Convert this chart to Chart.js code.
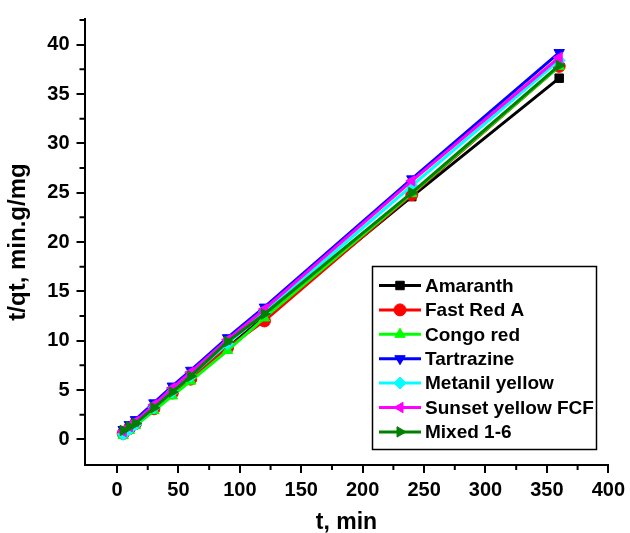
<!DOCTYPE html>
<html>
<head>
<meta charset="utf-8">
<script src="https://cdn.jsdelivr.net/npm/chart.js@4/dist/chart.umd.min.js"></script>
<style>
  html, body { margin: 0; padding: 0; background: #fff; }
  #wrap { width: 630px; height: 533px; }
</style>
</head>
<body>
<div id="wrap"><canvas id="kinetics"></canvas></div>
<script>
var times = [5, 10, 15, 30, 45, 60, 90, 120, 240, 360];
var amaranth = [0.6, 1.1, 1.6, 3.1, 4.6, 6.2, 9.3, 12.4, 24.6, 36.6];
var fastRed = [0.6, 1.1, 1.6, 3.1, 4.7, 6.1, 9.3, 12.0, 24.8, 37.8];
var congoRed = [0.4, 0.9, 1.4, 2.9, 4.4, 5.9, 9.0, 12.3, 24.9, 37.8];
var tartrazine = [1.0, 1.5, 2.0, 3.7, 5.4, 7.0, 10.3, 13.4, 26.4, 39.2];
var metanil = [0.5, 1.0, 1.5, 3.2, 4.8, 6.4, 9.7, 12.9, 25.7, 38.4];
var sunset = [0.8, 1.3, 1.8, 3.5, 5.2, 6.8, 10.1, 13.2, 26.2, 38.7];
var mixed = [0.9, 1.3, 1.6, 3.2, 4.8, 6.4, 9.9, 12.7, 25.0, 37.9];

var seriesNames = ["Amaranth", "Fast Red A", "Congo red", "Tartrazine", "Metanil yellow", "Sunset yellow FCF", "Mixed 1-6"];
var seriesData = [amaranth, fastRed, congoRed, tartrazine, metanil, sunset, mixed];
var seriesColors = ["#000000", "#ff0000", "#00ff00", "#0000ff", "#00ffff", "#ff00ff", "#008000"];
var markers = ["rect", "circle", "triangle", "triangle", "rectRot", "triangle", "triangle"];
var markerTurn = [0, 0, 0, 180, 0, 270, 90];

var xTicks = [0, 50, 100, 150, 200, 250, 300, 350, 400];
var yTicks = [0, 5, 10, 15, 20, 25, 30, 35, 40];

var FONT = "'Liberation Sans', Arial, sans-serif";

var datasets = seriesNames.map(function (name, i) {
  return {
    label: name,
    data: times.map(function (t, k) { return { x: t, y: seriesData[i][k] }; }),
    borderColor: seriesColors[i],
    backgroundColor: seriesColors[i],
    borderWidth: 3,
    pointStyle: markers[i],
    rotation: markerTurn[i],
    pointRadius: 6,
    pointBorderWidth: 1,
    tension: 0,
    order: seriesNames.length - i
  };
});

// short ticks halfway between the labelled ones
var minorTicks = {
  id: "minorTicks",
  afterDraw: function (chart) {
    var ctx = chart.ctx;
    var xs = chart.scales.x, ys = chart.scales.y;
    ctx.save();
    ctx.strokeStyle = "#000";
    ctx.lineWidth = 2;
    ctx.beginPath();
    for (var i = 0; i < xTicks.length - 1; i++) {
      var px = xs.getPixelForValue((xTicks[i] + xTicks[i + 1]) / 2);
      ctx.moveTo(px, xs.top);
      ctx.lineTo(px, xs.top + 5);
    }
    for (var j = 0; j < yTicks.length; j++) {
      var py = ys.getPixelForValue(yTicks[j] + 2.5);
      if (py < ys.top) continue;
      ctx.moveTo(ys.right, py);
      ctx.lineTo(ys.right - 5, py);
    }
    ctx.stroke();
    ctx.restore();
  }
};

// boxed legend in the lower right of the plot
var boxLegend = {
  id: "boxLegend",
  afterDraw: function (chart) {
    var ctx = chart.ctx;
    var left = 372.5, top = 266.5, w = 224, h = 183;
    ctx.save();
    ctx.fillStyle = "#fff";
    ctx.fillRect(left, top, w, h);
    ctx.strokeStyle = "#000";
    ctx.lineWidth = 1.5;
    ctx.strokeRect(left, top, w, h);
    ctx.font = "bold 19px " + FONT;
    ctx.textBaseline = "middle";
    chart.data.datasets.forEach(function (ds, i) {
      var y = 285.5 + i * 24.4;
      ctx.strokeStyle = ds.borderColor;
      ctx.lineWidth = 3;
      ctx.beginPath();
      ctx.moveTo(379, y);
      ctx.lineTo(421, y);
      ctx.stroke();
      if (Chart.helpers && Chart.helpers.drawPoint) {
        ctx.fillStyle = ds.backgroundColor;
        ctx.strokeStyle = ds.borderColor;
        ctx.lineWidth = 1;
        Chart.helpers.drawPoint(ctx, { pointStyle: ds.pointStyle, rotation: ds.rotation, radius: 6, borderWidth: 1 }, 400, y);
      }
      ctx.fillStyle = "#000";
      ctx.fillText(ds.label, 425, y + 1);
    });
    ctx.restore();
  }
};

new Chart("kinetics", {
  type: "line",
  data: { datasets: datasets },
  options: {
    responsive: true,
    maintainAspectRatio: false,
    animation: false,
    layout: { padding: { left: 0, right: 21, top: 16, bottom: 0 } },
    plugins: {
      legend: { display: false },
      tooltip: { enabled: false }
    },
    scales: {
      x: {
        type: "linear",
        min: -26.5,
        max: 400,
        afterBuildTicks: function (s) { s.ticks = xTicks.map(function (v) { return { value: v }; }); },
        afterFit: function (s) { s.height = 68; },
        border: { display: true, color: "#000", width: 2 },
        grid: { drawOnChartArea: false, drawTicks: true, tickLength: 8, color: "#000", lineWidth: 2 },
        ticks: {
          color: "#000",
          padding: 5,
          maxRotation: 0,
          font: { family: FONT, size: 20, weight: "bold" }
        },
        title: {
          display: true,
          text: "t, min",
          color: "#000",
          padding: { top: 0, bottom: -3 },
          font: { family: FONT, size: 23, weight: "bold" }
        }
      },
      y: {
        min: -2.6,
        max: 42.6,
        afterBuildTicks: function (s) { s.ticks = yTicks.map(function (v) { return { value: v }; }); },
        afterFit: function (s) { s.width = 84.5; },
        border: { display: true, color: "#000", width: 2 },
        grid: { drawOnChartArea: false, drawTicks: true, tickLength: 8, color: "#000", lineWidth: 2 },
        ticks: {
          color: "#000",
          padding: 7,
          font: { family: FONT, size: 20, weight: "bold" }
        },
        title: {
          display: true,
          text: "t/qt, min.g/mg",
          color: "#000",
          padding: { top: 4, bottom: 0 },
          font: { family: FONT, size: 24, weight: "bold" }
        }
      }
    }
  },
  plugins: [minorTicks, boxLegend]
});
</script>
</body>
</html>
